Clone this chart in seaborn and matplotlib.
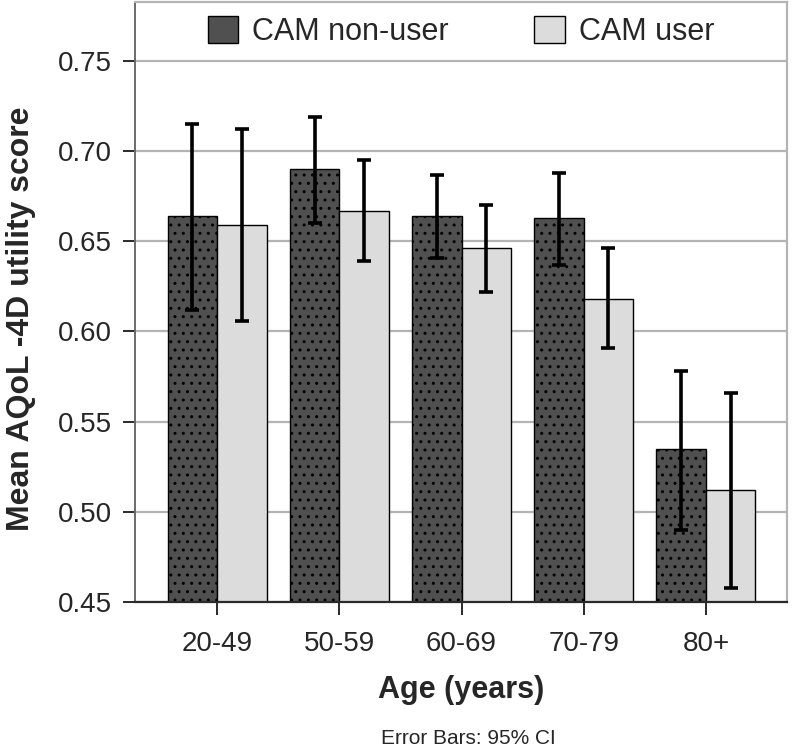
import numpy as np
import pandas as pd
import matplotlib
matplotlib.use("Agg")
import matplotlib.pyplot as plt
import seaborn as sns

# values
age_groups = ["20-49", "50-59", "60-69", "70-79", "80+"]
groups = ["CAM non-user", "CAM user"]
non_user_mean = [0.664, 0.690, 0.664, 0.663, 0.535]
non_user_lo = [0.612, 0.660, 0.641, 0.637, 0.490]
non_user_hi = [0.715, 0.719, 0.687, 0.688, 0.578]
user_mean = [0.659, 0.667, 0.646, 0.618, 0.512]
user_lo = [0.606, 0.639, 0.622, 0.591, 0.458]
user_hi = [0.712, 0.695, 0.670, 0.646, 0.566]
y_ticks = [0.45, 0.50, 0.55, 0.60, 0.65, 0.70, 0.75]

df = pd.DataFrame({
    "age": age_groups * 2,
    "group": [groups[0]] * 5 + [groups[1]] * 5,
    "score": non_user_mean + user_mean,
})

sns.set_style("white")
plt.rcParams["font.family"] = ["Liberation Sans", "DejaVu Sans"]
plt.rcParams["hatch.color"] = "#262626"
plt.rcParams["hatch.linewidth"] = 1.0

fig = plt.figure(figsize=(7.92, 7.52), dpi=100)
ax = fig.add_axes([0.1705, 0.1995, 0.8232, 0.7979])

colors = {"CAM non-user": "#505050", "CAM user": "#dcdcdc"}
sns.barplot(data=df, x="age", y="score", hue="group", palette=colors,
            width=0.81, edgecolor="black", linewidth=1.0, ax=ax, zorder=2,
            errorbar=None)

# dotted texture on the dark bars + asymmetric CI bars
for i, (bars, mean, lo, hi) in enumerate(zip(ax.containers,
                                             [non_user_mean, user_mean],
                                             [non_user_lo, user_lo],
                                             [non_user_hi, user_hi])):
    xs = [b.get_x() + b.get_width() / 2 for b in bars]
    if i == 0:
        for b in bars:
            b.set_hatch("..")
    yerr = [np.array(mean) - np.array(lo), np.array(hi) - np.array(mean)]
    ax.errorbar(xs, mean, yerr=yerr, fmt="none", ecolor="black",
                elinewidth=2.6, capsize=5, capthick=2.6, zorder=3)

ax.set_ylim(0.45, 0.7827)
ax.set_xlim(-0.671, 4.663)
ax.set_yticks(y_ticks)
ax.set_yticklabels([f"{v:.2f}" for v in y_ticks], fontsize=20)
ax.set_xticks(range(len(age_groups)))
ax.set_xticklabels(age_groups, fontsize=20)
ax.yaxis.grid(True, color="#b4b4b4", linewidth=1.6, zorder=0)
ax.set_axisbelow(True)

for side in ["top", "right"]:
    ax.spines[side].set_color("#b4b4b4")
    ax.spines[side].set_linewidth(1.6)
ax.spines["left"].set_color("#6a6a6a")
ax.spines["left"].set_linewidth(1.4)
ax.spines["bottom"].set_color("#2a2a2a")
ax.spines["bottom"].set_linewidth(1.6)
ax.tick_params(axis="x", bottom=True, length=9, width=1.4, pad=12,
               color="#2a2a2a")
ax.tick_params(axis="y", left=True, length=8.5, width=1.4, pad=8,
               color="#2a2a2a")

ax.set_ylabel("Mean AQoL -4D utility score", fontsize=23, fontweight="bold")
ax.yaxis.set_label_coords(-0.152, 0.472)
ax.set_xlabel("Age (years)", fontsize=22, fontweight="bold", labelpad=13)

leg = ax.legend(loc="upper center", ncol=2, frameon=False, fontsize=22,
                bbox_to_anchor=(0.5, 1.012), handlelength=1.0,
                handleheight=1.0, handletextpad=0.45, columnspacing=2.8,
                borderaxespad=0.3)

fig.text(468 / 792, 0.0186, "Error Bars: 95% CI", ha="center", va="center",
         fontsize=15)

fig.savefig("out.png", dpi=100)
